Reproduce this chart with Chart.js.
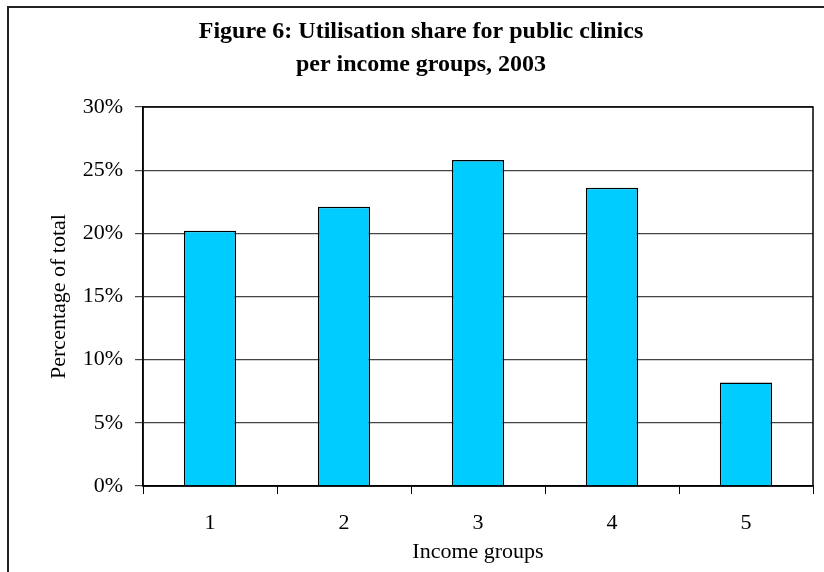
<!DOCTYPE html>
<html>
<head>
<meta charset="utf-8">
<style>
  html, body { margin: 0; padding: 0; background: #ffffff; }
  #wrap { width: 824px; height: 572px; position: relative; }
</style>
<script src="https://cdn.jsdelivr.net/npm/chart.js@4.4.1/dist/chart.umd.min.js"></script>
</head>
<body>
<div id="wrap"><canvas id="chart" width="824" height="572"></canvas></div>
<script>
// Utilisation share of public clinics by income group (2003)
const incomeGroups = ['1', '2', '3', '4', '5'];
const utilisationShare = [20.2, 22.1, 25.8, 23.6, 8.2];
const yTickValues = [0, 5, 10, 15, 20, 25, 30];

const titleLines = ['Figure 6: Utilisation share for public clinics', 'per income groups, 2003'];
const FONT = "'Liberation Serif', 'DejaVu Serif', serif";

// Frame around the figure and box around the plotting area
const framePlugin = {
  id: 'frame',
  afterDraw(chart) {
    const ctx = chart.ctx;
    const a = chart.chartArea;
    ctx.save();
    ctx.strokeStyle = '#000000';
    ctx.lineWidth = 1.5;
    ctx.strokeRect(a.left, a.top, a.right - a.left, a.bottom - a.top);
    ctx.strokeStyle = '#222222';
    ctx.lineWidth = 2;
    ctx.beginPath();
    ctx.moveTo(8, chart.height + 2);
    ctx.lineTo(8, 7);
    ctx.lineTo(chart.width + 2, 7);
    ctx.stroke();
    ctx.restore();
  }
};

new Chart(document.getElementById('chart'), {
  type: 'bar',
  data: {
    labels: incomeGroups,
    datasets: [{
      data: utilisationShare,
      backgroundColor: '#00CCFF',
      borderColor: '#000000',
      borderWidth: 1.5,
      barPercentage: 0.39,
      categoryPercentage: 1.0
    }]
  },
  options: {
    responsive: false,
    animation: false,
    layout: { padding: { left: 29, right: 11, top: 0, bottom: 0 } },
    plugins: {
      legend: { display: false },
      tooltip: { enabled: false },
      title: {
        display: true,
        text: titleLines,
        color: '#000000',
        font: { family: FONT, size: 24, weight: 'bold', lineHeight: 1.35 },
        padding: { top: 15.8, bottom: 26.4 }
      }
    },
    scales: {
      x: {
        grid: { display: true, drawOnChartArea: false, drawTicks: true, tickLength: 8, color: '#000000', offset: true },
        border: { display: true, color: '#000000', width: 1.5 },
        ticks: { color: '#000000', font: { family: FONT, size: 22 }, padding: 16, maxRotation: 0 },
        title: {
          display: true,
          text: 'Income groups',
          color: '#000000',
          font: { family: FONT, size: 22 },
          padding: { top: 0, bottom: 7 }
        },
        afterFit(scale) { scale.height = 86; }
      },
      y: {
        min: 0,
        max: 30,
        afterBuildTicks(scale) { scale.ticks = yTickValues.map(v => ({ value: v })); },
        grid: { color: '#444444', lineWidth: 1.2, drawTicks: true, tickLength: 8 },
        border: { display: true, color: '#000000', width: 1.5 },
        ticks: {
          color: '#000000',
          font: { family: FONT, size: 22 },
          padding: 12,
          callback: v => v + '%'
        },
        title: {
          display: true,
          text: 'Percentage of total',
          color: '#000000',
          font: { family: FONT, size: 22 },
          padding: { top: 17, bottom: 0 }
        },
        afterFit(scale) { scale.width = 114; }
      }
    }
  },
  plugins: [framePlugin]
});
</script>
</body>
</html>
